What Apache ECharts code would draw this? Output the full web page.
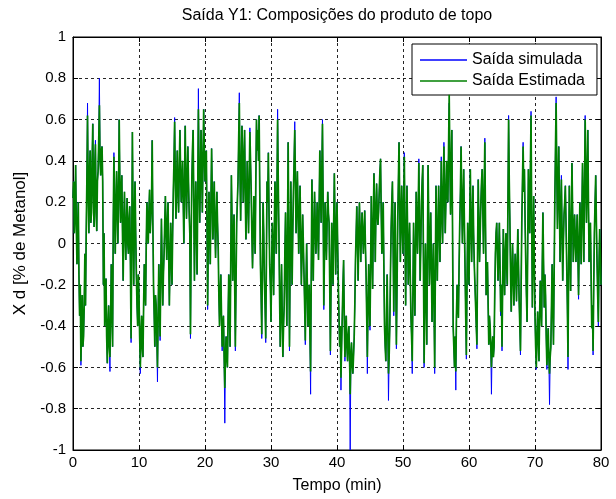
<!DOCTYPE html>
<html>
<head>
<meta charset="utf-8">
<script src="https://cdn.jsdelivr.net/npm/echarts@6/dist/echarts.min.js"></script>
<style>
html,body{margin:0;padding:0;background:#fff;}
#chart{width:616px;height:499px;}
</style>
</head>
<body>
<div id="chart"></div>
<script>
const chartTitle = 'Saída Y1: Composições do produto de topo';
const xAxisName = 'Tempo (min)';
const yAxisName = 'X d [% de Metanol]';
const seriesNames = ['Saída simulada', 'Saída Estimada'];
const xRange = [0, 80];
const yRange = [-1, 1];
const timeStep = 0.1; // minutes between samples

// one row = one minute (10 samples)
const saidaSimulada = [
0.22,0.30,0.05,0.15,0.38,0.10,-0.10,0.05,0.20,-0.15,
-0.35,-0.20,-0.59,-0.40,-0.25,-0.50,-0.45,-0.30,-0.05,-0.30,
0.05,0.30,0.68,0.25,0.05,0.35,0.45,0.10,0.15,0.40,
0.58,0.20,0.08,0.38,0.50,0.15,0.06,0.30,0.35,0.50,
0.80,0.40,0.33,0.45,0.47,0.30,-0.20,0.05,-0.40,-0.25,
-0.17,-0.45,-0.58,-0.40,-0.30,-0.50,-0.62,-0.35,-0.10,-0.30,
-0.50,0.10,0.44,0.20,-0.05,0.15,0.35,0.20,0.00,0.25,
0.60,0.30,0.10,0.25,0.33,0.05,-0.18,0.10,0.25,0.05,
-0.08,0.10,0.22,0.00,-0.05,0.12,0.18,-0.10,-0.48,0.00,
0.54,0.15,-0.20,0.10,0.30,0.05,-0.15,-0.30,-0.40,-0.15,
-0.25,-0.45,-0.63,-0.45,-0.35,-0.50,-0.55,-0.30,-0.10,-0.20,
-0.30,0.00,0.20,0.10,0.00,0.15,0.26,0.05,0.05,0.20,
0.50,0.10,-0.20,-0.35,-0.50,-0.25,-0.30,-0.45,-0.67,-0.35,
-0.10,-0.30,-0.47,-0.15,0.12,-0.10,-0.30,-0.15,-0.05,0.10,
0.23,0.05,-0.08,0.10,0.20,-0.05,-0.30,-0.10,0.10,-0.05,
-0.20,0.05,0.25,0.40,0.61,0.30,0.12,0.30,0.45,0.25,
0.15,0.35,0.55,0.35,0.20,0.30,0.40,0.20,0.00,0.30,
0.57,0.30,0.12,0.30,0.47,0.30,0.15,0.05,-0.46,0.00,
0.30,0.45,0.55,0.20,-0.18,0.10,0.30,0.10,-0.15,0.25,
0.75,0.35,0.10,0.30,0.55,0.35,0.15,0.40,0.65,0.45,
0.30,0.40,0.45,0.10,-0.32,0.00,0.25,0.10,-0.10,0.20,
0.46,0.25,0.02,0.15,0.30,0.10,-0.07,0.10,0.25,0.10,
-0.02,-0.25,-0.40,-0.25,-0.15,-0.35,-0.52,-0.40,-0.35,-0.55,
-0.87,-0.55,-0.45,-0.55,-0.60,-0.35,-0.15,-0.30,-0.50,-0.10,
0.33,0.10,-0.18,0.00,0.14,-0.20,-0.52,-0.20,0.10,0.20,
0.30,0.50,0.73,0.35,0.11,0.35,0.57,0.40,0.20,0.40,
0.55,0.25,0.02,0.20,0.40,0.20,0.05,0.30,0.56,0.40,
0.25,0.05,-0.12,0.05,0.23,0.10,-0.05,0.30,0.60,0.45,
0.55,0.40,0.62,0.25,-0.10,-0.25,-0.46,-0.10,0.20,0.05,
-0.18,-0.30,-0.48,-0.10,0.30,0.20,0.44,0.15,-0.10,-0.20,
-0.38,-0.10,0.10,-0.05,-0.25,0.05,0.30,0.10,-0.05,0.25,
0.65,0.30,0.05,-0.25,-0.50,-0.30,-0.10,-0.35,-0.55,-0.40,
-0.30,-0.05,0.15,-0.15,-0.40,0.05,0.49,0.00,-0.52,-0.10,
0.30,0.05,-0.20,0.05,0.25,0.40,0.59,0.30,0.05,0.20,
0.35,0.15,-0.05,0.10,0.28,0.05,-0.20,-0.05,0.14,0.00,
-0.15,-0.30,-0.49,-0.20,0.00,-0.20,-0.40,-0.30,-0.20,-0.45,
-0.73,-0.15,0.31,0.05,-0.18,0.05,0.25,0.10,-0.05,0.05,
0.20,0.05,-0.08,0.20,0.45,0.25,0.10,0.35,0.60,0.20,
-0.32,-0.05,0.20,0.05,-0.08,0.10,0.25,0.15,0.10,-0.20,
-0.54,-0.20,0.10,-0.05,-0.20,0.10,0.34,0.10,-0.15,0.05,
0.20,0.00,-0.20,-0.35,-0.50,-0.40,-0.71,-0.50,-0.35,-0.20,
-0.08,-0.35,-0.57,-0.45,-0.35,-0.50,-0.57,-0.45,-0.40,-0.55,
-1.00,-0.55,-0.48,-0.58,-0.63,-0.55,-0.46,-0.30,-0.08,0.05,
0.18,0.00,-0.18,0.05,0.20,0.05,-0.09,0.05,0.15,0.05,
-0.05,0.05,0.16,0.00,-0.14,-0.35,-0.63,-0.30,-0.10,-0.30,
-0.42,-0.10,0.23,0.00,-0.22,0.10,0.34,0.15,-0.09,0.15,
0.29,0.15,0.09,0.15,0.25,0.35,0.41,0.15,-0.05,0.10,
0.20,-0.10,-0.40,-0.50,-0.57,-0.35,-0.15,-0.40,-0.76,-0.55,
-0.40,-0.15,0.07,0.20,0.30,0.00,-0.35,-0.05,0.20,-0.15,
-0.51,-0.20,0.10,0.30,0.49,0.20,-0.09,0.10,0.28,0.10,
-0.05,0.20,0.44,0.05,-0.30,0.00,0.28,0.05,-0.20,-0.05,
0.10,-0.15,-0.35,-0.45,-0.63,-0.25,0.10,-0.10,-0.35,-0.05,
0.25,0.10,-0.05,0.15,0.41,0.10,-0.18,0.00,0.20,0.30,
0.38,-0.10,-0.60,-0.25,0.00,-0.25,-0.49,-0.05,0.38,0.10,
-0.20,-0.05,0.15,-0.10,-0.38,-0.15,0.00,-0.30,-0.63,-0.15,
0.28,0.05,-0.18,0.05,0.28,0.10,-0.09,0.15,0.42,0.15,
0.00,0.25,0.49,0.25,0.05,0.20,0.40,0.25,0.20,0.45,
0.68,0.40,0.14,0.35,0.55,0.10,-0.40,-0.50,-0.60,-0.45,
-0.71,-0.35,-0.20,-0.30,-0.36,-0.10,0.10,0.25,0.47,0.20,
0.00,0.20,0.36,0.10,-0.12,-0.35,-0.56,-0.20,0.10,-0.05,
-0.20,0.10,0.36,0.10,-0.09,0.10,0.28,0.05,-0.10,-0.20,
-0.30,-0.40,-0.51,-0.05,0.31,0.10,-0.09,0.05,0.20,0.30,
0.36,0.15,-0.05,0.25,0.51,0.10,-0.25,-0.10,-0.09,-0.30,
-0.49,-0.35,-0.40,-0.50,-0.73,-0.50,-0.45,-0.55,-0.50,-0.25,
-0.05,0.05,0.10,-0.05,-0.18,-0.05,0.10,-0.10,-0.35,-0.20,
-0.52,-0.20,0.07,-0.10,-0.25,-0.05,0.05,-0.10,-0.20,0.20,
0.62,0.30,0.10,-0.15,-0.33,-0.15,0.00,-0.15,-0.30,-0.15,
-0.05,-0.15,-0.28,-0.10,0.07,-0.10,-0.28,-0.40,-0.54,-0.20,
0.10,0.30,0.49,0.25,0.36,0.10,-0.09,-0.25,-0.38,0.00,
0.36,0.15,0.05,0.35,0.64,0.10,-0.31,-0.05,0.23,-0.10,
-0.35,-0.50,-0.61,-0.45,-0.33,-0.45,-0.57,-0.35,-0.18,-0.30,
-0.40,-0.10,0.15,-0.10,-0.31,-0.15,-0.25,-0.45,-0.61,-0.50,
-0.41,-0.55,-0.78,-0.55,-0.50,-0.30,-0.10,-0.30,-0.49,-0.15,
0.20,0.45,0.71,0.35,0.07,0.25,0.47,0.20,-0.09,0.15,
0.33,0.05,-0.18,0.00,0.14,0.20,0.28,0.10,-0.09,-0.30,
-0.61,-0.10,0.28,0.00,-0.23,0.10,0.39,0.15,-0.09,0.05,
0.14,0.00,-0.09,0.05,0.14,-0.05,-0.27,0.00,0.20,0.05,
-0.10,0.15,0.39,0.15,-0.09,0.25,0.62,0.35,0.10,0.30,
0.55,0.20,-0.09,0.00,0.10,-0.15,-0.41,-0.30,-0.54,-0.20,
0.05,0.20,0.33,0.10,-0.09,-0.25,-0.40,-0.10,0.07,-0.05,
-0.20
];

const saidaEstimada = [
0.22,0.30,0.05,0.15,0.38,0.10,-0.10,0.05,0.20,-0.15,
-0.35,-0.20,-0.57,-0.40,-0.25,-0.50,-0.45,-0.30,-0.05,-0.30,
0.05,0.30,0.62,0.25,0.05,0.35,0.45,0.10,0.15,0.40,
0.58,0.20,0.08,0.38,0.48,0.15,0.06,0.30,0.35,0.50,
0.67,0.40,0.33,0.45,0.47,0.30,-0.20,0.05,-0.40,-0.25,
-0.17,-0.45,-0.58,-0.40,-0.30,-0.50,-0.55,-0.35,-0.10,-0.30,
-0.50,0.10,0.42,0.20,-0.05,0.15,0.35,0.20,0.00,0.25,
0.60,0.30,0.10,0.25,0.33,0.05,-0.18,0.10,0.25,0.05,
-0.08,0.10,0.22,0.00,-0.05,0.12,0.18,-0.10,-0.46,0.00,
0.54,0.15,-0.20,0.10,0.30,0.05,-0.15,-0.30,-0.40,-0.15,
-0.25,-0.45,-0.60,-0.45,-0.35,-0.50,-0.55,-0.30,-0.10,-0.20,
-0.30,0.00,0.20,0.10,0.00,0.15,0.26,0.05,0.05,0.20,
0.50,0.10,-0.20,-0.35,-0.50,-0.25,-0.30,-0.45,-0.60,-0.35,
-0.10,-0.30,-0.45,-0.15,0.12,-0.10,-0.30,-0.15,-0.05,0.10,
0.23,0.05,-0.08,0.10,0.20,-0.05,-0.30,-0.10,0.10,-0.05,
-0.20,0.05,0.25,0.40,0.59,0.30,0.12,0.30,0.45,0.25,
0.15,0.35,0.55,0.35,0.20,0.30,0.40,0.20,0.00,0.30,
0.57,0.30,0.12,0.30,0.47,0.30,0.15,0.05,-0.44,0.00,
0.30,0.45,0.55,0.20,-0.18,0.10,0.30,0.10,-0.15,0.25,
0.65,0.35,0.10,0.30,0.55,0.35,0.15,0.40,0.65,0.45,
0.30,0.40,0.45,0.10,-0.30,0.00,0.25,0.10,-0.10,0.20,
0.46,0.25,0.02,0.15,0.30,0.10,-0.07,0.10,0.25,0.10,
-0.02,-0.25,-0.40,-0.25,-0.15,-0.35,-0.50,-0.40,-0.35,-0.55,
-0.70,-0.55,-0.45,-0.55,-0.60,-0.35,-0.15,-0.30,-0.50,-0.10,
0.33,0.10,-0.18,0.00,0.14,-0.20,-0.50,-0.20,0.10,0.20,
0.30,0.50,0.68,0.35,0.11,0.35,0.57,0.40,0.20,0.40,
0.55,0.25,0.02,0.20,0.40,0.20,0.05,0.30,0.54,0.40,
0.25,0.05,-0.12,0.05,0.23,0.10,-0.05,0.30,0.60,0.45,
0.55,0.40,0.62,0.25,-0.10,-0.25,-0.44,-0.10,0.20,0.05,
-0.18,-0.30,-0.46,-0.10,0.30,0.20,0.44,0.15,-0.10,-0.20,
-0.38,-0.10,0.10,-0.05,-0.25,0.05,0.30,0.10,-0.05,0.25,
0.60,0.30,0.05,-0.25,-0.50,-0.30,-0.10,-0.35,-0.55,-0.40,
-0.30,-0.05,0.15,-0.15,-0.40,0.05,0.49,0.00,-0.50,-0.10,
0.30,0.05,-0.20,0.05,0.25,0.40,0.55,0.30,0.05,0.20,
0.35,0.15,-0.05,0.10,0.28,0.05,-0.20,-0.05,0.14,0.00,
-0.15,-0.30,-0.47,-0.20,0.00,-0.20,-0.40,-0.30,-0.20,-0.45,
-0.62,-0.15,0.31,0.05,-0.18,0.05,0.25,0.10,-0.05,0.05,
0.20,0.05,-0.08,0.20,0.45,0.25,0.10,0.35,0.58,0.20,
-0.30,-0.05,0.20,0.05,-0.08,0.10,0.25,0.15,0.10,-0.20,
-0.52,-0.20,0.10,-0.05,-0.20,0.10,0.34,0.10,-0.15,0.05,
0.20,0.00,-0.20,-0.35,-0.50,-0.40,-0.65,-0.50,-0.35,-0.20,
-0.08,-0.35,-0.55,-0.45,-0.35,-0.50,-0.57,-0.45,-0.40,-0.55,
-0.73,-0.55,-0.48,-0.58,-0.63,-0.55,-0.46,-0.30,-0.08,0.05,
0.18,0.00,-0.18,0.05,0.20,0.05,-0.09,0.05,0.15,0.05,
-0.05,0.05,0.16,0.00,-0.14,-0.35,-0.55,-0.30,-0.10,-0.30,
-0.40,-0.10,0.23,0.00,-0.22,0.10,0.34,0.15,-0.09,0.15,
0.29,0.15,0.09,0.15,0.25,0.35,0.41,0.15,-0.05,0.10,
0.20,-0.10,-0.40,-0.50,-0.57,-0.35,-0.15,-0.40,-0.63,-0.55,
-0.40,-0.15,0.07,0.20,0.30,0.00,-0.33,-0.05,0.20,-0.15,
-0.49,-0.20,0.10,0.30,0.49,0.20,-0.09,0.10,0.28,0.10,
-0.05,0.20,0.42,0.05,-0.30,0.00,0.28,0.05,-0.20,-0.05,
0.10,-0.15,-0.35,-0.45,-0.57,-0.25,0.10,-0.10,-0.35,-0.05,
0.25,0.10,-0.05,0.15,0.39,0.10,-0.18,0.00,0.20,0.30,
0.38,-0.10,-0.58,-0.25,0.00,-0.25,-0.49,-0.05,0.38,0.10,
-0.20,-0.05,0.15,-0.10,-0.38,-0.15,0.00,-0.30,-0.60,-0.15,
0.28,0.05,-0.18,0.05,0.28,0.10,-0.09,0.15,0.40,0.15,
0.00,0.25,0.47,0.25,0.05,0.20,0.40,0.25,0.20,0.45,
0.72,0.40,0.14,0.35,0.55,0.10,-0.40,-0.50,-0.60,-0.45,
-0.62,-0.35,-0.20,-0.30,-0.36,-0.10,0.10,0.25,0.47,0.20,
0.00,0.20,0.36,0.10,-0.12,-0.35,-0.54,-0.20,0.10,-0.05,
-0.20,0.10,0.36,0.10,-0.09,0.10,0.28,0.05,-0.10,-0.20,
-0.30,-0.40,-0.49,-0.05,0.31,0.10,-0.09,0.05,0.20,0.30,
0.36,0.15,-0.05,0.25,0.49,0.10,-0.25,-0.10,-0.09,-0.30,
-0.49,-0.35,-0.40,-0.50,-0.60,-0.50,-0.45,-0.55,-0.50,-0.25,
-0.05,0.05,0.10,-0.05,-0.18,-0.05,0.10,-0.10,-0.33,-0.20,
-0.50,-0.20,0.07,-0.10,-0.25,-0.05,0.05,-0.10,-0.20,0.20,
0.60,0.30,0.10,-0.15,-0.33,-0.15,0.00,-0.15,-0.30,-0.15,
-0.05,-0.15,-0.28,-0.10,0.07,-0.10,-0.28,-0.40,-0.52,-0.20,
0.10,0.30,0.47,0.25,0.36,0.10,-0.09,-0.25,-0.38,0.00,
0.36,0.15,0.05,0.35,0.62,0.10,-0.31,-0.05,0.23,-0.10,
-0.35,-0.50,-0.60,-0.45,-0.33,-0.45,-0.57,-0.35,-0.18,-0.30,
-0.40,-0.10,0.15,-0.10,-0.31,-0.15,-0.25,-0.45,-0.59,-0.50,
-0.41,-0.55,-0.63,-0.55,-0.50,-0.30,-0.10,-0.30,-0.49,-0.15,
0.20,0.45,0.68,0.35,0.07,0.25,0.47,0.20,-0.09,0.15,
0.31,0.05,-0.18,0.00,0.14,0.20,0.28,0.10,-0.09,-0.30,
-0.55,-0.10,0.28,0.00,-0.23,0.10,0.39,0.15,-0.09,0.05,
0.14,0.00,-0.09,0.05,0.14,-0.05,-0.25,0.00,0.20,0.05,
-0.10,0.15,0.39,0.15,-0.09,0.25,0.60,0.35,0.10,0.30,
0.55,0.20,-0.09,0.00,0.10,-0.15,-0.41,-0.30,-0.52,-0.20,
0.05,0.20,0.33,0.10,-0.09,-0.25,-0.38,-0.10,0.07,-0.05,
-0.20
];

const FONT = 'Liberation Sans, Arial, Helvetica, sans-serif';
const toPairs = arr => arr.map((v, i) => [+(i * timeStep).toFixed(2), v]);

const chart = echarts.init(document.getElementById('chart'), null, {renderer: 'canvas'});

const gridLine = {show: true, lineStyle: {color: '#000', type: [3, 3], width: 1, opacity: 0.85}};
const tickStyle = {show: true, inside: true, length: 5, lineStyle: {color: '#000', width: 1}};
const axisLine = {show: true, onZero: false, lineStyle: {color: '#000', width: 1}};

chart.setOption({
  animation: false,
  backgroundColor: '#fff',
  title: {
    text: chartTitle,
    left: 337,
    top: 8,
    textAlign: 'center',
    padding: 0,
    textStyle: {fontFamily: FONT, fontSize: 16, fontWeight: 'normal', color: '#000'}
  },
  legend: {
    orient: 'vertical',
    left: 412,
    top: 44,
    padding: [8, 12, 6, 8],
    itemGap: 5,
    itemWidth: 47,
    itemHeight: 1.5,
    icon: 'rect',
    backgroundColor: '#fff',
    borderColor: '#000',
    borderWidth: 1,
    borderRadius: 0,
    textStyle: {fontFamily: FONT, fontSize: 16, color: '#000'},
    data: seriesNames
  },
  grid: {
    left: 73, right: 15, top: 37, bottom: 46,
    show: true, borderColor: '#000', borderWidth: 1, backgroundColor: '#fff'
  },
  xAxis: [{
    type: 'value', min: xRange[0], max: xRange[1], interval: 10, position: 'bottom',
    axisLine: axisLine, axisTick: tickStyle, splitLine: gridLine,
    axisLabel: {fontFamily: FONT, fontSize: 15, color: '#000', margin: 5},
    name: xAxisName, nameLocation: 'middle', nameGap: 28,
    nameTextStyle: {fontFamily: FONT, fontSize: 16, color: '#000'}
  }, {
    type: 'value', min: xRange[0], max: xRange[1], interval: 10, position: 'top',
    axisLine: axisLine, axisTick: tickStyle, splitLine: {show: false}, axisLabel: {show: false}
  }],
  yAxis: [{
    type: 'value', min: yRange[0], max: yRange[1], interval: 0.2, position: 'left',
    axisLine: axisLine, axisTick: tickStyle, splitLine: gridLine,
    axisLabel: {fontFamily: FONT, fontSize: 15, color: '#000', margin: 7},
    name: yAxisName, nameLocation: 'middle', nameGap: 42, nameRotate: 90,
    nameTextStyle: {fontFamily: FONT, fontSize: 17, color: '#000'}
  }, {
    type: 'value', min: yRange[0], max: yRange[1], interval: 0.2, position: 'right',
    axisLine: axisLine, axisTick: tickStyle, splitLine: {show: false}, axisLabel: {show: false}
  }],
  series: [{
    name: seriesNames[0], type: 'line', xAxisIndex: 0, yAxisIndex: 0,
    data: toPairs(saidaSimulada), showSymbol: false, symbol: 'none',
    color: '#0000ff', lineStyle: {color: '#0000ff', width: 1}, z: 3, silent: true
  }, {
    name: seriesNames[1], type: 'line', xAxisIndex: 0, yAxisIndex: 0,
    data: toPairs(saidaEstimada), showSymbol: false, symbol: 'none',
    color: '#008000', lineStyle: {color: '#008000', width: 1.7}, z: 4, silent: true
  }]
});
</script>
</body>
</html>
